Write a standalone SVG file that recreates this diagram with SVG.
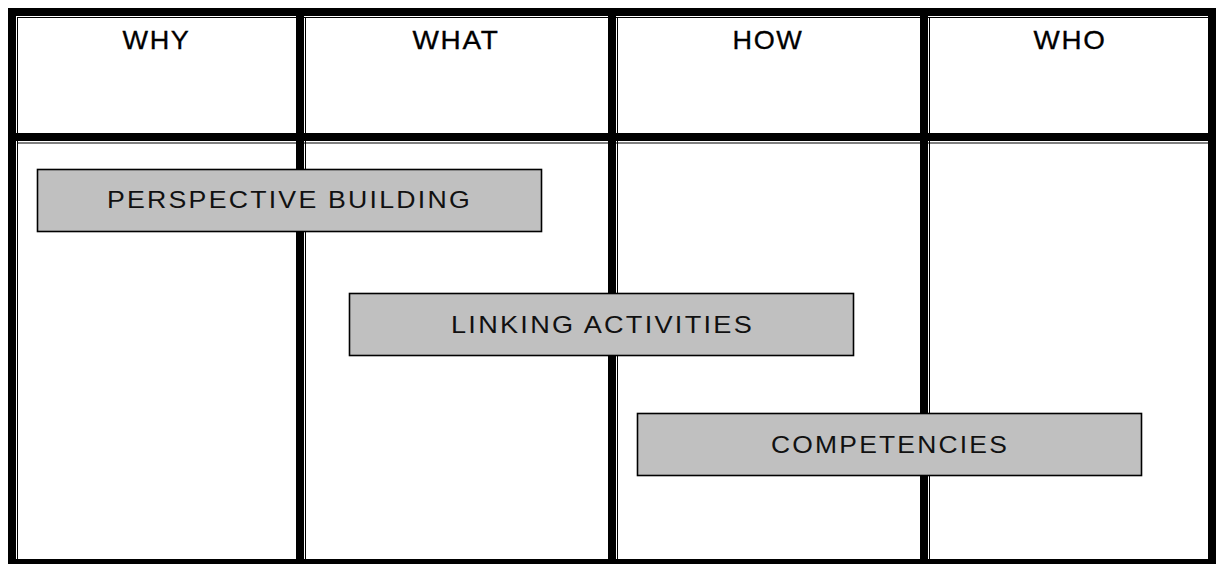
<svg xmlns="http://www.w3.org/2000/svg" width="1216" height="564" viewBox="0 0 1216 564">
<style>
.thick{fill:#000}
.thin{fill:#000}
.box{fill:#c0c0c0;stroke:#000;stroke-width:1.6}
.hdr{font-family:"Liberation Sans",Arial,sans-serif;font-size:25px;letter-spacing:1.5px;text-anchor:middle;fill:#000;stroke:#000;stroke-width:0.3}
.lbl{font-family:"Liberation Sans",Arial,sans-serif;font-size:24px;letter-spacing:2px;text-anchor:middle;fill:#111}
</style>
<rect width="1216" height="564" fill="#fff"/>
<g id="table">
<rect class="thin" x="17" y="17" width="1191" height="1"/>
<rect class="thin" x="17" y="142.5" width="1191" height="1"/>
<rect class="thin" x="17" y="17" width="1" height="542"/>
<rect class="thin" x="305" y="17" width="1" height="542"/>
<rect class="thin" x="617" y="17" width="1" height="542"/>
<rect class="thin" x="929" y="17" width="1" height="542"/>
<rect class="thick" x="8" y="8" width="1208" height="8"/>
<rect class="thick" x="8" y="133" width="1208" height="8"/>
<rect class="thick" x="8" y="559" width="1208" height="8"/>
<rect class="thick" x="8" y="8" width="8" height="559"/>
<rect class="thick" x="296" y="8" width="8" height="559"/>
<rect class="thick" x="608" y="8" width="8" height="559"/>
<rect class="thick" x="920" y="8" width="8" height="559"/>
<rect class="thick" x="1208" y="8" width="8" height="559"/>
</g>
<g id="headers">
<text class="hdr" x="156.5" y="49.3" textLength="68" lengthAdjust="spacingAndGlyphs">WHY</text>
<text class="hdr" x="456" y="49.3" textLength="87" lengthAdjust="spacingAndGlyphs">WHAT</text>
<text class="hdr" x="768" y="49.3" textLength="71" lengthAdjust="spacingAndGlyphs">HOW</text>
<text class="hdr" x="1070" y="49.3" textLength="73" lengthAdjust="spacingAndGlyphs">WHO</text>
</g>
<g id="connectors"></g>
<g id="perspective-building">
<rect class="box" x="37.5" y="169.5" width="504" height="62"/>
<text class="lbl" x="289.5" y="207.5" textLength="365" lengthAdjust="spacingAndGlyphs">PERSPECTIVE BUILDING</text>
</g>
<g id="linking-activities">
<rect class="box" x="349.5" y="293.5" width="504" height="62"/>
<text class="lbl" x="602.5" y="333" textLength="303" lengthAdjust="spacingAndGlyphs">LINKING ACTIVITIES</text>
</g>
<g id="competencies">
<rect class="box" x="637.5" y="413.5" width="504" height="62"/>
<text class="lbl" x="890" y="453" textLength="238" lengthAdjust="spacingAndGlyphs">COMPETENCIES</text>
</g>
</svg>
